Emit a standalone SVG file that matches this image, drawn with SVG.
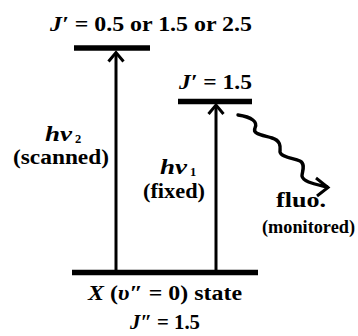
<svg xmlns="http://www.w3.org/2000/svg" width="358" height="336" viewBox="0 0 358 336" font-family="'Liberation Serif','Times New Roman',serif">
<style>
.t{font-family:"Liberation Serif","Times New Roman",serif;font-weight:bold;font-size:20px;fill:#000}
.s{font-size:12.5px;font-style:normal}
.i{font-style:italic}
.lvl{stroke:#000;stroke-width:5.5;fill:none}
.c{stroke:#000;stroke-width:3;fill:none}
.w{stroke:#000;stroke-width:3.4;fill:none;stroke-linecap:round;stroke-linejoin:round}
.h{stroke:#000;stroke-width:3;fill:none;stroke-linejoin:miter;stroke-linecap:butt}
</style>
<rect width="358" height="336" fill="#fff"/>
<g id="upper-level">
<line class="lvl" x1="74" y1="48" x2="150" y2="48"/>
<text class="t" x="50" y="31" textLength="202" lengthAdjust="spacingAndGlyphs"><tspan class="i">J′</tspan> = 0.5 or 1.5 or 2.5</text>
</g>
<g id="middle-level">
<line class="lvl" x1="178" y1="101.5" x2="252" y2="101.5"/>
<text class="t" x="179" y="89" textLength="73" lengthAdjust="spacingAndGlyphs"><tspan class="i">J′</tspan> = 1.5</text>
</g>
<g id="ground-level">
<line class="lvl" x1="72" y1="272.5" x2="258" y2="272.5"/>
<text class="t" x="88" y="300" textLength="154" lengthAdjust="spacingAndGlyphs"><tspan class="i">X</tspan> (<tspan class="i">υ″</tspan> = 0) state</text>
<text class="t" x="130" y="329" textLength="70" lengthAdjust="spacingAndGlyphs"><tspan class="i">J″</tspan> = 1.5</text>
</g>
<g id="connectors">
<line class="c" x1="116" y1="271" x2="116" y2="53"/>
<polyline class="h" points="108.5,61.5 116,52.5 123.5,61.5"/>
<line class="c" x1="216" y1="271" x2="216" y2="106"/>
<polyline class="h" points="208.5,114 216,105 223.5,114"/>
<path class="w" d="M238,115 C252,117 258,122 255,128 C252,134 262,135 272,138 C282,141 280,148 280,152 C281,157 292,158 300,161 C306,164 302,172 302,176 C303,182 315,184 327,187"/>
<polyline class="h" points="316,178 328,187.5 317,196"/>
</g>
<g id="label-hv2">
<text class="t" x="45" y="141"><tspan class="i" textLength="27" lengthAdjust="spacingAndGlyphs">hν</tspan><tspan class="s" x="75" dy="1.5">2</tspan></text>
<text class="t" x="13" y="163.5" textLength="96" lengthAdjust="spacingAndGlyphs">(scanned)</text>
</g>
<g id="label-hv1">
<text class="t" x="160" y="174"><tspan class="i" textLength="27" lengthAdjust="spacingAndGlyphs">hν</tspan><tspan class="s" x="190" dy="1.5">1</tspan></text>
<text class="t" x="143" y="197.5" textLength="62" lengthAdjust="spacingAndGlyphs">(fixed)</text>
</g>
<g id="label-fluo">
<text class="t" x="276" y="207" textLength="50" lengthAdjust="spacingAndGlyphs">fluo.</text>
<text class="t" x="262" y="233" font-size="18.5" style="font-size:18.5px" textLength="93" lengthAdjust="spacingAndGlyphs">(monitored)</text>
</g>
</svg>
